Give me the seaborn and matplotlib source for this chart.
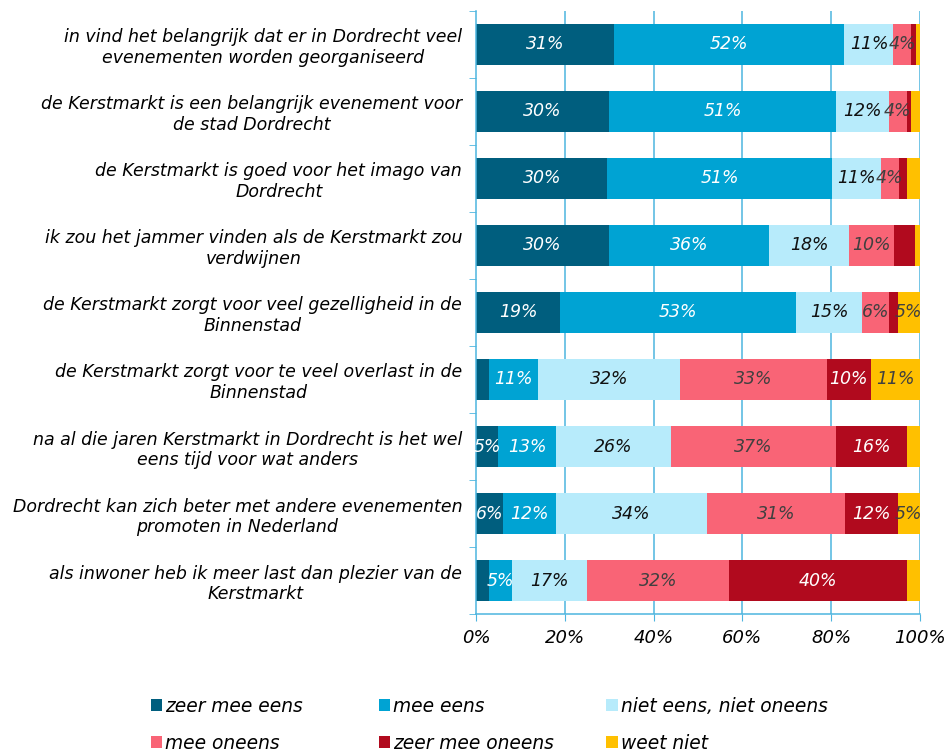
import pandas as pd
import matplotlib.pyplot as plt
import seaborn as sns
import numpy as np
from matplotlib.patches import Patch
from matplotlib.ticker import FixedLocator, PercentFormatter

plt.switch_backend('Agg')

# Data (percentages)
statements = [
    'in vind het belangrijk dat er in Dordrecht veel\nevenementen worden georganiseerd',
    'de Kerstmarkt is een belangrijk evenement voor\nde stad Dordrecht',
    'de Kerstmarkt is goed voor het imago van\nDordrecht',
    'ik zou het jammer vinden als de Kerstmarkt zou\nverdwijnen',
    'de Kerstmarkt zorgt voor veel gezelligheid in de\nBinnenstad',
    'de Kerstmarkt zorgt voor te veel overlast in de\nBinnenstad',
    'na al die jaren Kerstmarkt in Dordrecht is het wel\neens tijd voor wat anders',
    'Dordrecht kan zich beter met andere evenementen\npromoten in Nederland',
    'als inwoner heb ik meer last dan plezier van de\nKerstmarkt',
]
answers = ['zeer mee eens', 'mee eens', 'niet eens, niet oneens',
           'mee oneens', 'zeer mee oneens', 'weet niet']

zeer_mee_eens = [31, 30, 29.6, 30, 19, 2.9, 5, 6, 2.9]
mee_eens = [52, 51, 50.6, 36, 53, 11, 13, 12, 5.1]
neutraal = [11, 12, 11, 18, 15, 32, 26, 34, 17]
mee_oneens = [4, 4, 4, 10.1, 6, 33.1, 37.1, 31.1, 32]
zeer_mee_oneens = [1, 1, 1.9, 4.8, 2, 9.9, 15.9, 11.9, 40]
weet_niet = [1, 2, 2.9, 1.1, 5, 11.1, 3, 5, 3]

colors = ['#005E7E', '#00A3D3', '#B7EBFB', '#F96476', '#B10A1E', '#FFC000']
text_colors = ['white', 'white', '#111111', '#404040', 'white', '#404040']
min_label = [4, 4, 4, 4, 6, 4]  # smaller segments are left unlabelled

df = pd.DataFrame(dict(zip(answers, [zeer_mee_eens, mee_eens, neutraal,
                                      mee_oneens, zeer_mee_oneens, weet_niet])))
df['statement'] = statements
cum = df[answers].cumsum(axis=1)

fig = plt.figure(figsize=(9.49, 7.51), dpi=100)
ax = fig.add_axes([0.5016, 0.1824, 0.4678, 0.803])

grid_c = '#4DB5DF'
for x in [20, 40, 60, 80, 100]:
    ax.axvline(x, color=grid_c, lw=1.1, zorder=0)

# stacked bars: draw cumulative totals from the last series to the first
for i in range(len(answers) - 1, -1, -1):
    sns.barplot(x=cum[answers[i]], y=df['statement'], orient='h',
                color=colors[i], width=0.62, saturation=1, ax=ax,
                linewidth=0, zorder=2)

# value labels
for i, a in enumerate(answers):
    for j in range(len(df)):
        v = df[a].iloc[j]
        if v >= min_label[i]:
            ax.text(cum[a].iloc[j] - v / 2, j, f'{round(v)}%', ha='center', va='center',
                    fontsize=12.5, style='italic', color=text_colors[i], zorder=3)

ax.set_xlim(0, 100)
ax.set_ylim(len(df) - 0.5, -0.5)
ax.set_xlabel('')
ax.set_ylabel('')
ax.xaxis.set_major_locator(FixedLocator([0, 20, 40, 60, 80, 100]))
ax.xaxis.set_major_formatter(PercentFormatter(decimals=0))
for s in ['top', 'right']:
    ax.spines[s].set_visible(False)
for s in ['left', 'bottom']:
    ax.spines[s].set_color(grid_c)
    ax.spines[s].set_linewidth(1.1)

ax.tick_params(axis='x', length=5, color=grid_c, labelsize=13, pad=6)
ax.tick_params(axis='y', which='major', length=0, pad=10, labelsize=12.5)
ax.yaxis.set_minor_locator(FixedLocator(np.arange(-0.5, len(df), 1)))
ax.tick_params(axis='y', which='minor', length=5, color=grid_c)
for lab in ax.get_xticklabels():
    lab.set_style('italic')
for lab in ax.get_yticklabels():
    lab.set_style('italic')
    lab.set_multialignment('center')

# legend: three equally spaced columns of two entries
handles = [Patch(facecolor=c, edgecolor='none') for c in colors]
for col, x0 in enumerate([0.159, 0.399, 0.639]):
    idx = [col, col + 3]
    fig.legend([handles[k] for k in idx], [answers[k] for k in idx],
               loc='center left', bbox_to_anchor=(x0, 0.035), frameon=False,
               prop={'size': 13.4, 'style': 'italic'}, handlelength=0.6,
               handleheight=0.6, handletextpad=0.18, labelspacing=0.97,
               borderpad=0, borderaxespad=0)

plt.savefig('out.png', dpi=100)
plt.close()
